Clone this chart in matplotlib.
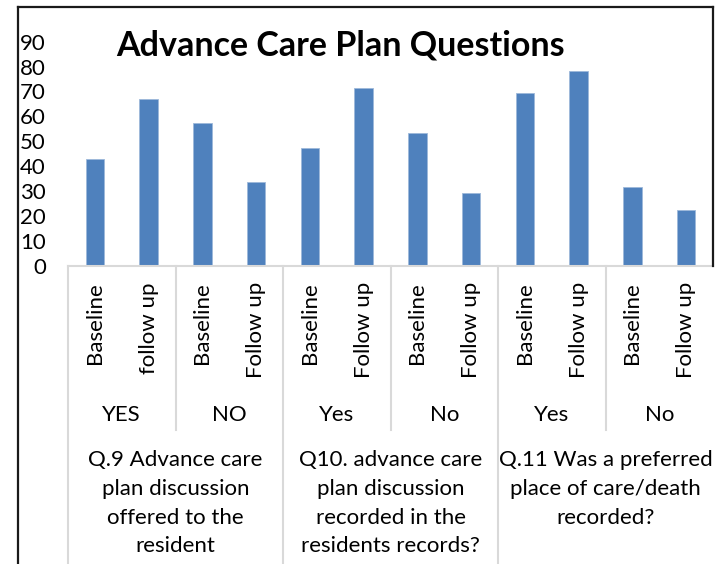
import matplotlib.pyplot as plt
from matplotlib.transforms import blended_transform_factory
from matplotlib.lines import Line2D

plt.rcParams['font.family'] = ['Lato', 'DejaVu Sans']

# data
time_labels = ['Baseline', 'follow up', 'Baseline', 'Follow up', 'Baseline', 'Follow up',
               'Baseline', 'Follow up', 'Baseline', 'Follow up', 'Baseline', 'Follow up']
answer_labels = ['YES', 'NO', 'Yes', 'No', 'Yes', 'No']
question_labels = ['Q.9 Advance care\nplan discussion\noffered to the\nresident',
                   'Q10. advance care\nplan discussion\nrecorded in the\nresidents records?',
                   'Q.11 Was a preferred\nplace of care/death\nrecorded?']
values = [43, 67, 57.5, 33.4, 47.3, 71.2, 53.1, 29.2, 69.2, 78.2, 31.5, 22.2]

W, H = 719, 564
fig = plt.figure(figsize=(W / 100, H / 100), dpi=100)

def fy(py):
    return 1 - py / H

def fx(px):
    return px / W

# plot area in pixels
left, right, top, bottom = 68, 713, 41.7, 265.5
ax = fig.add_axes([fx(left), fy(bottom), fx(right) - fx(left), (bottom - top) / H])

x = list(range(len(values)))
ax.bar(x, values, width=0.34, color='#4F81BD', edgecolor='#9DB8DA', linewidth=0.6)
ax.set_xlim(-0.5, len(values) - 0.5)
ax.set_ylim(0, 90)
ax.set_yticks(range(0, 91, 10))
ax.tick_params(axis='y', length=0, pad=16, labelsize=16)
ax.set_xticks([])
for s in ax.spines.values():
    s.set_visible(False)

grey = '#D9D9D9'
tr = blended_transform_factory(ax.transData, fig.transFigure)

# category axis line
fig.add_artist(Line2D([fx(left), fx(right)], [fy(bottom), fy(bottom)],
                      color=grey, lw=1.5, transform=fig.transFigure))
# separators: subgroups (short) and groups (to bottom)
for xs in [1.5, 5.5, 9.5]:
    fig.add_artist(Line2D([xs, xs], [fy(bottom), fy(430)], color=grey, lw=1.5, transform=tr))
for xs in [-0.5, 3.5, 7.5]:
    fig.add_artist(Line2D([xs, xs], [fy(bottom), 0], color=grey, lw=1.5, transform=tr))

fs = 16
# level 1 labels (rotated)
for i, lab in enumerate(time_labels):
    fig.text(i, fy(282), lab, rotation=90, ha='center', va='top', fontsize=fs, transform=tr)
# level 2 labels
for j, lab in enumerate(answer_labels):
    fig.text(2 * j + 0.5, fy(415), lab, ha='center', va='center', fontsize=fs, transform=tr)
# level 3 labels
for k, lab in enumerate(question_labels):
    fig.text(4 * k + 1.5, fy(450), lab, ha='center', va='top', fontsize=fs,
             linespacing=1.55, transform=tr)

# title
fig.text(fx(340), fy(45), 'Advance Care Plan Questions', ha='center', va='center',
         fontsize=24.5, fontweight='bold')

# chart border
bc = '#1a1a1a'
fig.add_artist(Line2D([fx(18), fx(713)], [fy(7), fy(7)], color=bc, lw=1.6, transform=fig.transFigure))
fig.add_artist(Line2D([fx(18), fx(18)], [fy(7), 0], color=bc, lw=1.6, transform=fig.transFigure))
fig.add_artist(Line2D([fx(713), fx(713)], [fy(7), fy(bottom)], color=bc, lw=1.6, transform=fig.transFigure))

fig.savefig('out.png', dpi=100)
